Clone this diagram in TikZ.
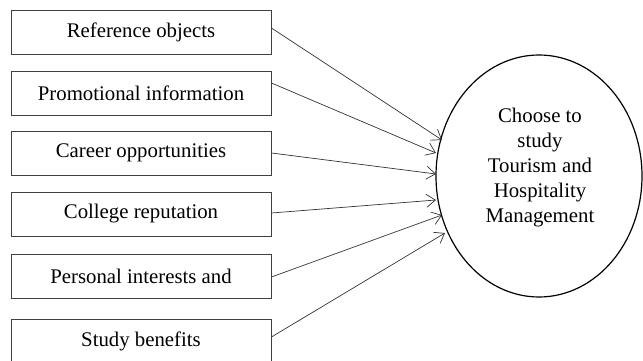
\documentclass[tikz,border=0pt]{standalone}
\usepackage{fontspec}
\setmainfont{Liberation Serif}
\usetikzlibrary{arrows.meta,shapes.geometric}
\begin{document}
\begin{tikzpicture}[x=1pt,y=-1pt,
  box/.style={draw=black!75,line width=0.9pt,minimum width=260pt,minimum height=44pt,inner sep=0pt,font=\fontsize{20.8}{24}\selectfont},
  goal/.style={draw=black,ellipse,line width=1.2pt,minimum width=206pt,minimum height=242pt,inner sep=0pt},
  link/.style={draw=black!80,line width=0.7pt,-{Straight Barb[length=9pt,width=13pt,line width=0.7pt]}}]
\useasboundingbox (0,0) rectangle (643,361);
\node[box] (b1) at (141,32) {Reference objects};
\node[box] (b2) at (141,93) {Promotional information};
\node[box] (b3) at (141,153) {Career opportunities};
\node[box] (b4) at (141,214) {College reputation};
\node[box] (b5) at (141,276) {Personal interests and};
\node[box] (b6) at (141,341) {Study benefits};
\node[goal] (g) at (539,176) {};
\node[align=center,font=\fontsize{20.8}{25}\selectfont] (gt) at (540,168) {Choose to\\study\\Tourism and\\Hospitality\\Management};
\coordinate (t1) at (442,140);
\coordinate (t2) at (436,153);
\coordinate (t3) at (436,174);
\coordinate (t4) at (436,200);
\coordinate (t5) at (442,215);
\coordinate (t6) at (445,233);
\draw[link] ([yshift=4pt]b1.east) -- (t1);
\draw[link] ([yshift=10pt]b2.east) -- (t2);
\draw[link] (b3.east) -- (t3);
\draw[link] ([yshift=1pt]b4.east) -- (t4);
\draw[link] ([yshift=-1pt]b5.east) -- (t5);
\draw[link] ([yshift=4pt]b6.east) -- (t6);
\end{tikzpicture}
\end{document}
